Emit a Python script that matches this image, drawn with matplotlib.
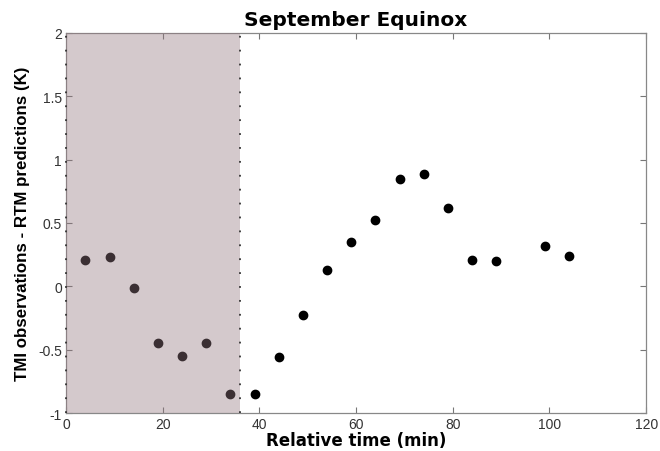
import matplotlib
matplotlib.use("Agg")
import matplotlib.pyplot as plt
from matplotlib.patches import Rectangle

plt.rcParams['font.family'] = ['Liberation Sans', 'DejaVu Sans']

time_min = [4, 9, 14, 19, 24, 29, 34, 39, 44, 49, 54, 59, 64, 69, 74, 79, 84, 89, 99, 104]
diff_K = [0.21, 0.23, -0.01, -0.45, -0.55, -0.45, -0.85, -0.85, -0.56, -0.23,
          0.13, 0.35, 0.52, 0.85, 0.89, 0.62, 0.21, 0.20, 0.32, 0.24]
shade_start, shade_end = 0, 36
xticks = [0, 20, 40, 60, 80, 100, 120]
yticks = [-1, -0.5, 0, 0.5, 1, 1.5, 2]
yticklabels = ['-1', '-0.5', '0', '0.5', '1', '1.5', '2']

fig = plt.figure(figsize=(6.6, 4.52), dpi=100)
ax = fig.add_axes([0.1, 0.084, 0.879, 0.841])

ax.plot(time_min, diff_K, 'o', color='black', markersize=6, zorder=2)

ax.axvspan(shade_start, shade_end, facecolor=(0.58, 0.47, 0.50, 0.4),
           edgecolor='none', zorder=3)
for xv in (shade_start, shade_end):
    ax.axvline(xv, color='#333333', linewidth=1.3, linestyle=(0, (1, 6.7)),
               zorder=4, clip_on=False)

ax.set_xlim(0, 120)
ax.set_ylim(-1, 2)
ax.set_xticks(xticks)
ax.set_yticks(yticks)
ax.set_yticklabels(yticklabels)
ax.tick_params(direction='in', length=4, width=0.8, color='#777777',
               labelsize=10, labelcolor='#333333', top=True, right=True, pad=3)
for s in ax.spines.values():
    s.set_color('#888888')
    s.set_linewidth(0.9)

ax.set_title('September Equinox', fontsize=14.5, fontweight='bold', pad=6,
             family='DejaVu Sans')
ax.set_xlabel('Relative time (min)', fontsize=12, fontweight='bold', labelpad=0,
              family='DejaVu Sans')
ax.set_ylabel('TMI observations - RTM predictions (K)', fontsize=12.2,
              fontweight='bold', labelpad=6)

fig.savefig('out.png', dpi=100)
